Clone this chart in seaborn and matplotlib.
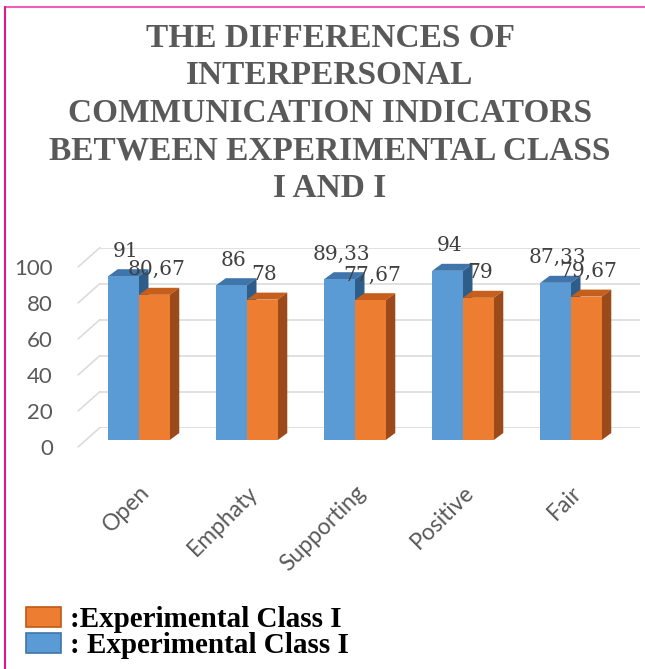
import matplotlib
matplotlib.use("Agg")
import matplotlib.pyplot as plt
import seaborn as sns
import pandas as pd
from matplotlib.patches import Polygon, Patch
from matplotlib.lines import Line2D

# ---------------- data ----------------
categories = ["Open", "Emphaty", "Supporting", "Positive", "Fair"]
series_names = ["Experimental Class I", "Experimental Class II"]
class_one = [91, 86, 89.33, 94, 87.33]      # blue series
class_two = [80.67, 78, 77.67, 79, 79.67]   # orange series
legend_labels = [":Experimental Class I", ": Experimental Class I"]
title_lines = ["THE DIFFERENCES OF", "INTERPERSONAL", "COMMUNICATION INDICATORS",
               "BETWEEN EXPERIMENTAL CLASS", "I AND I"]
y_ticks = [0, 20, 40, 60, 80, 100]

df = pd.DataFrame({
    "indicator": categories * 2,
    "score": class_one + class_two,
    "group": [series_names[0]] * len(categories) + [series_names[1]] * len(categories),
})

# ---------------- style ----------------
sns.set_style("white")
plt.rcParams["font.family"] = ["Lato", "DejaVu Sans"]

BLUE, ORANGE = "#5b9bd5", "#ed7d31"
shade = {BLUE: ("#3f75aa", "#2e5d8a"), ORANGE: ("#c65e1c", "#9c4a19")}
GRAY = "#595959"

W, H, DPI = 645, 669, 100
fig = plt.figure(figsize=(W / DPI, H / DPI), dpi=DPI)
fig.patch.set_facecolor("white")


def rect(x_px, y_bottom_from_top, w_px, h_px):
    return [x_px / W, (H - y_bottom_from_top) / H, w_px / W, h_px / H]


AX_L, AX_W, AX_H, ZERO_Y = 85, 540, 180, 440
PX = AX_W / len(categories)     # pixels per category
PY = AX_H / 100.0               # pixels per value unit
BACK_DX, BACK_DY = 15, 12.5
FRONT_DX, FRONT_DY = -7, -7
BAR_DX, BAR_DY = 9.5, 7

# back wall gridlines
ax_grid = fig.add_axes(rect(AX_L + BACK_DX, ZERO_Y - BACK_DY, AX_W, AX_H))
ax_grid.set_xlim(-0.5, len(categories) - 0.5)
ax_grid.set_ylim(0, 100)
ax_grid.set_yticks(y_ticks)
ax_grid.set_xticks([])
ax_grid.yaxis.grid(True, color="#d9d9d9", lw=1.1)
ax_grid.tick_params(axis="y", length=0, labelleft=False)
for s in ax_grid.spines.values():
    s.set_visible(False)
ax_grid.set_facecolor("none")

# front plane (value axis labels)
ax_lab = fig.add_axes(rect(AX_L + FRONT_DX, ZERO_Y - FRONT_DY, AX_W, AX_H))
ax_lab.set_xlim(-0.5, len(categories) - 0.5)
ax_lab.set_ylim(0, 100)
ax_lab.set_yticks(y_ticks)
ax_lab.set_yticklabels([str(t) for t in y_ticks])
ax_lab.set_xticks([])
ax_lab.tick_params(axis="y", length=0, pad=18, labelsize=16, labelcolor=GRAY)
for s in ax_lab.spines.values():
    s.set_visible(False)
ax_lab.set_facecolor("none")

# bars
ax = fig.add_axes(rect(AX_L, ZERO_Y, AX_W, AX_H))
ax.set_facecolor("none")
sns.barplot(data=df, x="indicator", y="score", hue="group", order=categories,
            hue_order=series_names, palette=[BLUE, ORANGE], width=0.57,
            saturation=1, legend=False, ax=ax, zorder=3, linewidth=0, edgecolor="none")
ax.set_xlim(-0.5, len(categories) - 0.5)
ax.set_ylim(0, 100)
ax.set_xlabel("")
ax.set_ylabel("")
ax.set_yticks([])
for s in ax.spines.values():
    s.set_visible(False)
ax.tick_params(axis="x", length=0, pad=30)
plt.setp(ax.get_xticklabels(), rotation=45, ha="right", va="top",
         rotation_mode="anchor", fontsize=16.5, color=GRAY)

# left floor diagonals
for v in y_ticks:
    ax.plot([-0.5 + FRONT_DX / PX, -0.5 + BACK_DX / PX],
            [v + FRONT_DY / PY, v + BACK_DY / PY],
            color="#d9d9d9", lw=1.1, clip_on=False, zorder=1)

# 3D faces + value labels
bars = [p for p in ax.patches if p.get_height() > 0]
bars.sort(key=lambda p: (0 if matplotlib.colors.to_hex(p.get_facecolor()) == BLUE else 1, p.get_x()))
ddx, ddy = BAR_DX / PX, BAR_DY / PY
for p in bars:
    x, w, h = p.get_x(), p.get_width(), p.get_height()
    fc = matplotlib.colors.to_hex(p.get_facecolor())
    top_c, side_c = shade[fc]
    ax.add_patch(Polygon([(x, h), (x + w, h), (x + w + ddx, h + ddy), (x + ddx, h + ddy)],
                         closed=True, facecolor=top_c, edgecolor="none", zorder=2, clip_on=False))
    ax.add_patch(Polygon([(x + w, 0), (x + w, h), (x + w + ddx, h + ddy), (x + w + ddx, ddy)],
                         closed=True, facecolor=side_c, edgecolor="none", zorder=2, clip_on=False))
    label = f"{h:g}".replace(".", ",")
    ax.annotate(label, xy=(x + w / 2, h), xytext=(2, 25), textcoords="offset pixels",
                ha="center", va="center", fontsize=14.5, color="#404040",
                family="DejaVu Serif", zorder=5, annotation_clip=False)

# title
for i, line in enumerate(title_lines):
    fig.text(330 / W, 1 - (47 + 37.5 * i) / H, line, ha="center", va="baseline",
             fontsize=24, fontweight="bold", color=GRAY, family="Liberation Serif")

# legend (orange first)
handles = [Patch(facecolor=ORANGE, edgecolor="#c05a18", lw=1.2),
           Patch(facecolor=BLUE, edgecolor="#3f75aa", lw=1.2)]
fig.legend(handles, legend_labels, loc="upper left", bbox_to_anchor=(26 / W, 1 - 606 / H),
           frameon=False, prop={"family": "Liberation Serif", "weight": "bold", "size": 21},
           handlelength=1.2, handleheight=0.7, handletextpad=0.3, labelspacing=-0.02,
           borderpad=0, borderaxespad=0, labelcolor="black")

# page border lines
fig.add_artist(Line2D([5 / W, 1], [1 - 7 / H, 1 - 7 / H], color="#ef5fb5", lw=1.5))
fig.add_artist(Line2D([5 / W, 5 / W], [0, 1 - 7 / H], color="#e3178c", lw=1.5))

fig.savefig("out.png", dpi=DPI)
